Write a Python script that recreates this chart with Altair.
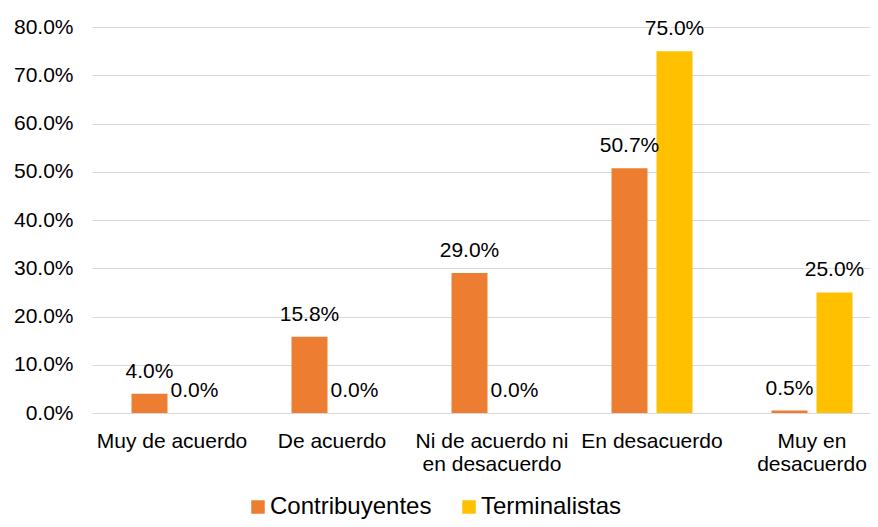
import altair as alt
import pandas as pd

categories = ["Muy de acuerdo", "De acuerdo", "Ni de acuerdo ni\nen desacuerdo",
              "En desacuerdo", "Muy en\ndesacuerdo"]
series = ["Contribuyentes", "Terminalistas"]
contribuyentes = [4.0, 15.8, 29.0, 50.7, 0.5]
terminalistas = [0.0, 0.0, 0.0, 75.0, 25.0]
colors = ["#ED7D31", "#FFC000"]
y_ticks = [0, 10, 20, 30, 40, 50, 60, 70, 80]

rows = []
for c, a, b in zip(categories, contribuyentes, terminalistas):
    rows.append({"cat": c, "serie": series[0], "val": a})
    rows.append({"cat": c, "serie": series[1], "val": b})
df = pd.DataFrame(rows)

FONT = "Liberation Sans"

x = alt.X("cat:N", sort=categories,
          scale=alt.Scale(domain=categories, paddingInner=0, paddingOuter=0),
          axis=alt.Axis(title=None, labelAngle=0, domain=False, ticks=False,
                        labelFont=FONT, labelFontSize=21, labelColor="#000000",
                        labelPadding=17, labelLineHeight=23, labelLimit=300,
                        labelExpr="split(datum.label, '\\n')"))
xo = alt.XOffset("serie:N", sort=series,
                 scale=alt.Scale(domain=series, paddingInner=0.2, paddingOuter=0.878))
y = alt.Y("val:Q", scale=alt.Scale(domain=[0, 80], nice=False),
          axis=alt.Axis(title=None, values=y_ticks, domain=False, ticks=False,
                        labelFont=FONT, labelFontSize=21, labelColor="#000000",
                        labelPadding=19, gridColor="#d9d9d9", gridWidth=1,
                        labelExpr="format(datum.value, '.1f') + '%'"))

base = alt.Chart(df)

bars = base.mark_bar().encode(
    x=x, xOffset=xo, y=y,
    color=alt.Color("serie:N", sort=series,
                    scale=alt.Scale(domain=series, range=colors),
                    legend=alt.Legend(title=None, orient="none", direction="horizontal",
                                      legendX=154, legendY=468,
                                      symbolType="square", symbolSize=182,
                                      symbolStrokeWidth=0, labelFont=FONT,
                                      labelFontSize=24, labelColor="#000000",
                                      labelOffset=0, labelLimit=300,
                                      columnPadding=25, padding=0)),
)

labels = base.transform_calculate(
    lbl="format(datum.val, '.1f') + '%'"
).mark_text(dy=-16, baseline="alphabetic", font=FONT, fontSize=21, color="#000000").encode(
    x=x, xOffset=xo, y=y, text="lbl:N"
)

chart = alt.layer(bars, labels).properties(
    width=800, height=386,
    autosize=alt.AutoSizeParams(type="none"),
    padding={"left": 84, "right": -22, "top": 19, "bottom": 106},
).configure_view(stroke=None)

chart.save("out.html", embed_options={"renderer": "svg", "actions": False})
